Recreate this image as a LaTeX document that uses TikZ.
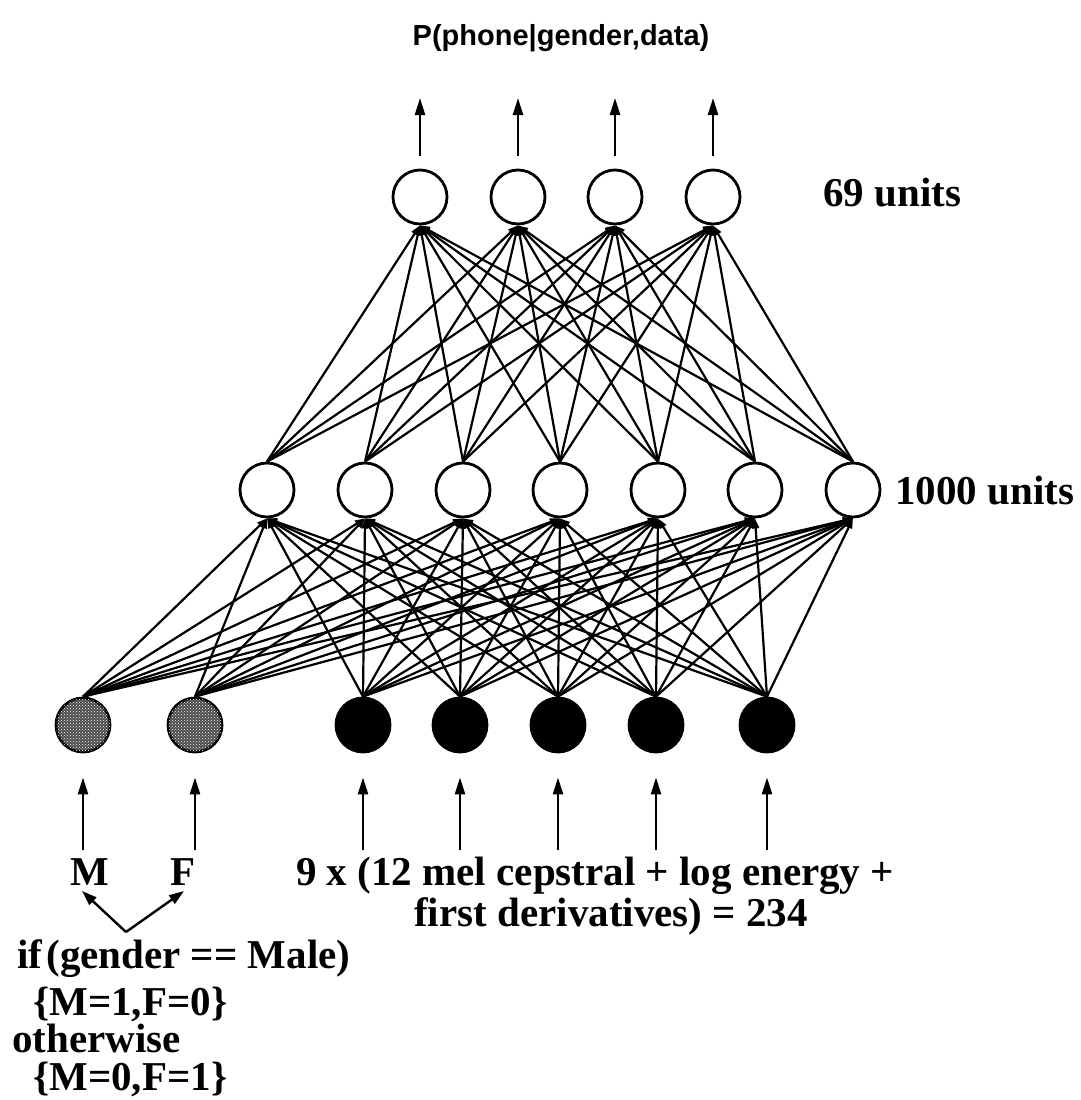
\documentclass[tikz,border=0pt]{standalone}
\usepackage{fontspec}
\setmainfont{Liberation Serif}
\newfontfamily\titlefont{Liberation Sans}
\usetikzlibrary{arrows.meta,patterns}
\begin{document}
\begin{tikzpicture}[x=1pt,y=-1pt,
  unit/.style={circle,draw,line width=2.8pt,minimum size=54pt,inner sep=0pt,fill=white},
  inunit/.style={unit,fill=black},
  genunit/.style={unit,fill=black!70,postaction={pattern=crosshatch dots,pattern color=white}},
  conn/.style={line width=2.2pt,-{Triangle[length=10pt,width=7pt]}},
  ioarrow/.style={line width=2.4pt,-{Triangle[length=17pt,width=10pt]}},
  lab/.style={font=\bfseries\fontsize{41}{46}\selectfont,inner sep=0pt},
  titlelab/.style={font=\titlefont\bfseries\fontsize{29}{33}\selectfont,inner sep=0pt}]
\useasboundingbox (0,0) rectangle (1080,1100);

% output layer
\foreach \x [count=\i] in {420,518,615,713} {
  \node[unit] (o\i) at (\x,197) {};
  \coordinate (t\i) at (\x,98);
}
% hidden layer
\foreach \x [count=\i] in {267,365,463,560,658,755,853} {
  \node[unit] (h\i) at (\x,490) {};
}
% input layer
\node[genunit] (i1) at (83,725) {};
\node[genunit] (i2) at (195,725) {};
\foreach \x [count=\i from 3] in {363,460,558,656,767} {
  \node[inunit] (i\i) at (\x,725) {};
}
\foreach \x [count=\i] in {83,195,363,460,558,656,767} {
  \coordinate (s\i) at (\x,850);
}

% connections hidden -> output
\foreach \h in {1,...,7} {
  \foreach \o in {1,...,4} {
    \draw[conn] (h\h.north) -- (o\o.south);
  }
}
% connections input -> hidden
\foreach \n in {1,...,7} {
  \foreach \h in {1,...,7} {
    \draw[conn] (i\n.north) -- (h\h.south);
  }
}
% output arrows
\foreach \i in {1,...,4} {
  \draw[ioarrow] ([yshift=13pt]o\i.north) -- (t\i);
}
% input arrows
\foreach \i in {1,...,7} {
  \draw[ioarrow] (s\i) -- ([yshift=-24pt]i\i.south);
}

% labels
\node[titlelab,anchor=base] (title) at (561,45) {P(phone|gender,data)};
\node[lab,anchor=base west] (l69) at (823,206) {69 units};
\node[lab,anchor=base west] (l1000) at (895,504) {1000 units};
\node[lab,anchor=base] (M) at (90,885) {M};
\node[lab,anchor=base] (F) at (183,885) {F};
\node[lab,anchor=base west] (feat1) at (296,885) {9 x (12 mel cepstral + log energy +};
\node[lab,anchor=base] (feat2) at (611,926) {first derivatives) = 234};
\node[lab,anchor=base west] (c1) at (17,968) {if\hspace{0.1em}(gender == Male)};
\node[lab,anchor=base west] (c2) at (33,1015) {\{M=1,F=0\}};
\node[lab,anchor=base west] (c3) at (12,1052) {otherwise};
\node[lab,anchor=base west] (c4) at (33,1090) {\{M=0,F=1\}};

% gender selector arrows
\coordinate (v) at (126,932);
\coordinate (vm) at (82,891);
\coordinate (vf) at (184,891);
\draw[line width=2.4pt,-{Triangle[length=15pt,width=10pt]}] (v) -- (vm);
\draw[line width=2.4pt,-{Triangle[length=15pt,width=10pt]}] (v) -- (vf);
\end{tikzpicture}
\end{document}
